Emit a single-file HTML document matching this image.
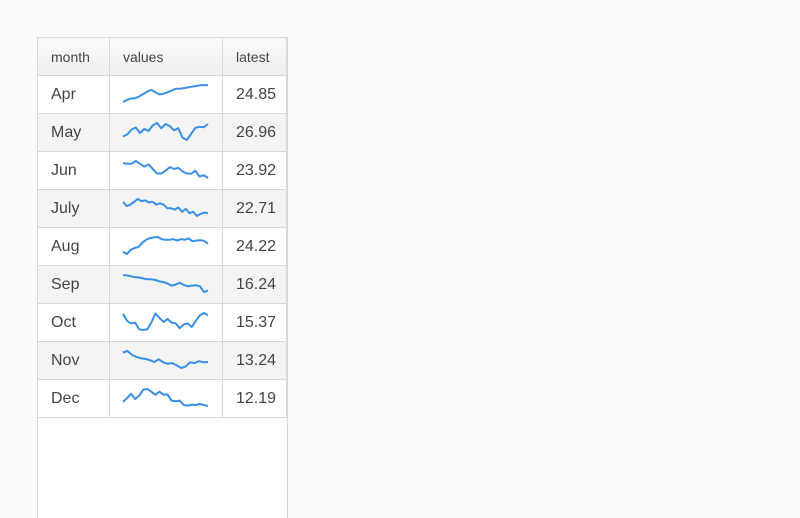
<!DOCTYPE html>
<html><head><meta charset="utf-8"><style>
body{margin:0;background:#fafafa;width:800px;height:513px;overflow:hidden;font-family:"Liberation Sans",sans-serif;}
#wrap{position:absolute;left:37px;top:37px;width:249px;height:480px;background:#fff;border:1px solid #d8d8d8;border-bottom:none;}
table{border-collapse:collapse;width:250px;margin:-1px 0 0 -1px;}
td,th{border:1px solid #d8d8d8;height:37px;padding:0 0 0 13px;text-align:left;color:#444;}
th{font-weight:normal;font-size:14px;background:linear-gradient(#fafafa,#efefef);}
td{font-size:16px;}
tr.alt td{background:#f4f4f4;}
td.sp{padding:0;}
svg{display:block;}
</style></head><body>
<div id="wrap">
<table>
<thead><tr>
<th style="width:58px">month</th>
<th style="width:99px">values</th>
<th>latest</th></tr></thead>
<tbody id="tb"></tbody></table></div>
<script>
const months=["Apr","May","Jun","July","Aug","Sep","Oct","Nov","Dec"];
const latest=["24.85","26.96","23.92","22.71","24.22","16.24","15.37","13.24","12.19"];
const sApr=[22,28,32,33,38,45,52,57,50,44,46,50,55,60,60,62,64,66,68,70,71,70];
const sMay=[32,38,52,58,42,54,48,64,71,56,68,62,50,56,29,22,39,57,60,59,68];
const sJun=[65,63,63,71,63,55,61,48,35,35,43,53,48,51,41,35,34,43,26,30,22];
const sJul=[62,50,54,62,70,64,66,60,62,54,58,54,44,44,40,46,34,42,30,34,22,28,32,30];
const sAug=[30,24,36,41,44,56,64,69,71,72,66,64,64,66,62,66,64,68,60,62,63,61,53];
const sSep=[72,71,68,66,65,62,60,60,58,54,52,48,42,45,50,44,40,42,43,40,24,28];
const sOct=[68,49,42,44,26,24,26,44,69,57,46,54,44,42,29,39,42,32,49,64,70,64];
const sNov=[66,70,60,54,51,49,46,41,48,40,36,38,32,25,29,40,38,43,40,41];
const sDec=[36,47,60,45,54,72,74,66,57,66,57,58,40,38,40,27,25,28,27,30,27,24];
const series=[sApr,sMay,sJun,sJul,sAug,sSep,sOct,sNov,sDec];
const NS="http://www.w3.org/2000/svg";
const tb=document.getElementById('tb');
months.forEach((m,i)=>{
  const tr=document.createElement('tr');
  
  
  if(i%2) tr.className='alt';
  const td1=document.createElement('td');td1.textContent=m;
  
  
  const td2=document.createElement('td');td2.className='sp';
  
  
  const svg=document.createElementNS(NS,'svg');svg.setAttribute('width','112');svg.setAttribute('height','37');
  
  
  const d=series[i];const mn=Math.min(...d),mx=Math.max(...d);
  const xs=k=>13+k*(85/(d.length-1));const ys=v=>26-(v-mn)/(mx-mn)*17;
  const pl=document.createElementNS(NS,'polyline');
  pl.setAttribute('points',d.map((v,k)=>xs(k).toFixed(1)+','+ys(v).toFixed(1)).join(' '));
  pl.setAttribute('fill','none');pl.setAttribute('stroke','#3a8fe8');pl.setAttribute('stroke-width','2');
  pl.setAttribute('stroke-linejoin','round');
  
  
  svg.appendChild(pl);td2.appendChild(svg);
  const td3=document.createElement('td');td3.textContent=latest[i];
  
  
  tr.append(td1,td2,td3);tb.appendChild(tr);
});
</script></body></html>
